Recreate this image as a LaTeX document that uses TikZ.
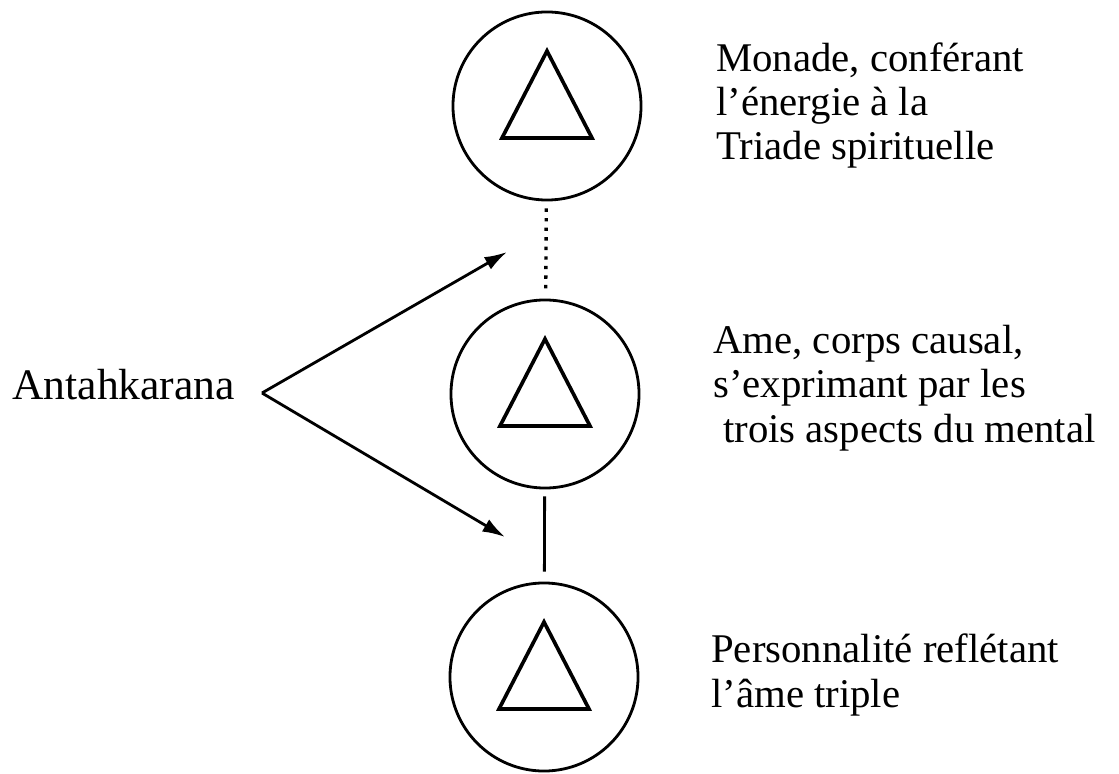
\documentclass[tikz,border=0pt]{standalone}
\usepackage{fontspec}
\setmainfont{Liberation Serif}
\usetikzlibrary{arrows.meta}

\begin{document}
\begin{tikzpicture}[x=0.025cm, y=-0.025cm,
    ring/.style={circle, draw, line width=2pt, minimum size=4.7cm, inner sep=0pt},
    tri/.style={line width=2.6pt, line join=miter},
    txt/.style={anchor=base west, inner sep=0pt, align=left, font=\fontsize{29}{31.3}\selectfont},
    link/.style={line width=2pt},
    arr/.style={line width=2pt, -{Latex[length=16pt, width=10pt]}}]
    \useasboundingbox (0,0) rectangle (1119,774);

    % Circles
    \node[ring] (mon) at (547, 106) {};
    \node[ring] (ame) at (545, 394) {};
    \node[ring] (pers) at (544, 677) {};

    % Triangles
    \foreach \n in {mon, ame, pers} {
        \draw[tri] (\n.center) ++(0,-55) -- ++(45,87) -- ++(-90,0) -- cycle;
    }

    % Links between circles
    \draw[link, line width=2.4pt, dash pattern=on 2.4pt off 4.4pt, shorten <=5pt, shorten >=3pt] (mon) -- (ame);
    \draw[link, shorten <=5pt, shorten >=7pt] (ame) -- (pers);

    % Labels (anchored on the last line)
    \node[txt] (mon_txt) at (716, 160) {Monade, conférant\\l’énergie à la\\Triade spirituelle};
    \node[txt] (ame_txt) at (713, 442) {Ame, corps causal,\\s’exprimant par les\\\hspace{7pt}trois aspects du mental};
    \node[txt] (pers_txt) at (711, 707) {Personnalité reflétant\\l’âme triple};
    \node[txt, font=\fontsize{31}{33}\selectfont] (anta) at (12, 400) {Antahkarana};

    % Antahkarana arrows
    \coordinate (fork) at (262, 393);
    \coordinate (up_tip) at (507, 252);
    \coordinate (down_tip) at (505, 537);
    \draw[arr] (fork) -- (up_tip);
    \draw[arr] (fork) -- (down_tip);
\end{tikzpicture}
\end{document}
